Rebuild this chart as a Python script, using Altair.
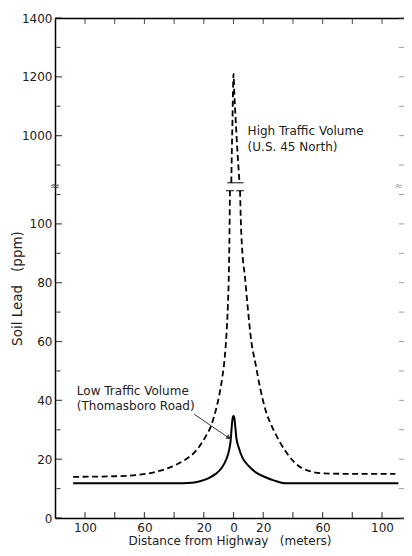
import altair as alt
import pandas as pd

# ---------------- data ----------------
# Low traffic volume (Thomasboro Road) - solid curve
low_dist = [-108, -40, -28, -22, -17, -12, -8, -5, -3, -2, -1.2, -0.5, 0, 0.5, 1.2, 2, 3.5, 6, 10, 15, 20, 27, 35, 111]
low_ppm = [11.8, 11.8, 12.0, 12.6, 13.5, 15.0, 17.0, 19.8, 23.0, 26.0, 31.0, 34.2, 34.7, 34.2, 31.0, 27.0, 24.0, 20.5, 17.8, 15.5, 14.2, 12.8, 11.8, 11.8]

# High traffic volume (U.S. 45 North) - dashed curve, split at the axis break
high_left_dist = [-108, -80, -62, -50, -40, -32, -25, -19, -15, -12, -9.5, -7.5, -6, -4.8, -3.8, -3.1, -2.7, -2.4]
high_left_ppm = [14, 14.2, 14.8, 16, 17.8, 20, 23, 27.5, 31.5, 36.5, 42, 48, 54, 62, 72, 84, 97, 111.3]
high_right_dist = [4.4, 5, 6, 7.7, 9.5, 12, 15, 18, 22, 26, 31, 36, 46, 60, 80, 109]
high_right_ppm = [111.3, 100, 90, 82, 72, 60, 52, 44, 36, 31, 26, 22, 17, 15.2, 15, 15]
high_top_dist = [-1.5, -1.1, -0.7, -0.35, 0, 0.5, 1.5, 2.6, 3.5, 4.0]
high_top_ppm = [840, 950, 1050, 1150, 1210, 1150, 1050, 950, 880, 840]

# axis ticks / labels
x_tick_values = [-100, -80, -60, -40, -20, 0, 20, 40, 60, 80, 100]
x_label_values = [-100, -60, -20, 0, 20, 60, 100]
y_tick_ppm = [0, 10, 20, 30, 40, 50, 60, 70, 80, 90, 100, 110, 900, 1000, 1100, 1200, 1300, 1400]
y_label_ppm = [0, 20, 40, 60, 80, 100, 1000, 1200, 1400]

high_label = ["High Traffic Volume", "(U.S. 45 North)"]
low_label = ["Low Traffic Volume", "(Thomasboro Road)"]
NB = "\u00a0"
x_title = f"Distance from Highway{NB}{NB}{NB}(meters)"
y_title = f"Soil Lead{NB}{NB}{NB}(ppm)"

# ---------------- broken y axis mapping ----------------
BREAK_EXPR = "datum.ppm > 200 ? 30 + datum.ppm / 10 : datum.ppm"


def to_plot(v):
    return 30 + v / 10 if v > 200 else v


X_MIN, X_MAX = -120.2, 114.8
Y_MIN, Y_MAX = 0, 170
W, H = 349, 500

y_tick_vals = [to_plot(v) for v in y_tick_ppm]
y_label_vals = [to_plot(v) for v in y_label_ppm]
y_label_expr = (f"indexof({y_label_vals}, datum.value) >= 0 ? "
                f"(datum.value > 115 ? round((datum.value - 30) * 10) : datum.value) : ''")
x_label_expr = f"indexof({x_label_values}, datum.value) >= 0 ? abs(datum.value) : ''"

FONT = "DejaVu Sans"
INK = "#222"
xscale = alt.Scale(domain=[X_MIN, X_MAX], nice=False, zero=False)
yscale = alt.Scale(domain=[Y_MIN, Y_MAX], nice=False, zero=False)

bottom_axis = alt.Axis(values=x_tick_values, labelExpr=x_label_expr, ticks=False,
                       labelPadding=4, domainColor="black", domainWidth=1.5,
                       labelFont=FONT, labelFontSize=12, labelColor=INK,
                       grid=False, titleFont=FONT, titleFontSize=12, titleFontWeight="normal",
                       titleColor=INK, titleY=22, titleBaseline="middle")
left_axis = alt.Axis(values=y_tick_vals, labelExpr=y_label_expr, ticks=False,
                     labelPadding=3, domainColor="black", domainWidth=1.5,
                     labelFont=FONT, labelFontSize=12, labelColor=INK,
                     grid=False, titleFont=FONT, titleFontSize=13.5, titleFontWeight="normal",
                     titleColor=INK, titleX=-38, titleY=270, titleAngle=270,
                     titleAlign="center", titleBaseline="middle")
top_axis = alt.Axis(orient="top", labels=False, ticks=False, domainColor="black",
                    domainWidth=1.5, grid=False, title=None)
right_axis = alt.Axis(orient="right", labels=False, ticks=False, domainColor="#d0d0d0",
                      domainWidth=1, grid=False, title=None)

# ---------------- tables ----------------
low_df = pd.DataFrame({"dist": low_dist, "ppm": low_ppm})
high_df = pd.concat([
    pd.DataFrame({"dist": high_left_dist, "ppm": high_left_ppm, "seg": "left"}),
    pd.DataFrame({"dist": high_right_dist, "ppm": high_right_ppm, "seg": "right"}),
    pd.DataFrame({"dist": high_top_dist, "ppm": high_top_ppm, "seg": "top"}),
])
caps_df = pd.DataFrame({
    "dist": [high_left_dist[-1], high_right_dist[0], high_top_dist[0], high_top_dist[-1]],
    "ppm": [high_left_ppm[-1], high_right_ppm[0], high_top_ppm[0], high_top_ppm[-1]],
})
text_df = pd.DataFrame({
    "dist": [9.5, 9.5, -105.5, -105.5],
    "ppm": [1015, 962, 43.2, 38.1],
    "label": high_label + low_label,
})
arrow_df = pd.DataFrame({"dist": [-26.5, -3.6], "ppm": [35.3, 27.4]})
break_df = pd.DataFrame({"dist": [X_MIN, X_MAX], "ppm": [113, 113]})

# inward tick marks (left/right on y, bottom/top on x)
y_major = [v in y_label_ppm for v in y_tick_ppm]
ytick_df = pd.DataFrame({"py": y_tick_vals, "major": y_major})
xtick_df = pd.DataFrame({"dist": x_tick_values})

noX = alt.X("dist:Q", scale=xscale, axis=None)
noY = alt.Y("py:Q", scale=yscale, axis=None)

solid = alt.Chart(low_df).transform_calculate(py=BREAK_EXPR).mark_line(
    color="black", strokeWidth=2, interpolate="monotone"
).encode(
    x=alt.X("dist:Q", scale=xscale, axis=bottom_axis, title=x_title),
    y=alt.Y("py:Q", scale=yscale, axis=left_axis, title=y_title),
)

dashed = alt.Chart(high_df).transform_calculate(py=BREAK_EXPR).mark_line(
    color="black", strokeWidth=1.8, strokeDash=[6, 3.5], interpolate="monotone"
).encode(x=noX, y=noY, detail="seg:N")

caps = alt.Chart(caps_df).transform_calculate(py=BREAK_EXPR).mark_tick(
    orient="horizontal", size=8, thickness=1.4, color="black"
).encode(
    x=alt.X("dist:Q", scale=xscale, axis=top_axis),
    y=alt.Y("py:Q", scale=yscale, axis=right_axis),
)

texts = alt.Chart(text_df).transform_calculate(py=BREAK_EXPR).mark_text(
    align="left", baseline="middle", font=FONT, fontSize=12, color=INK
).encode(x=noX, y=noY, text="label:N")

arrow_line = alt.Chart(arrow_df).transform_calculate(py=BREAK_EXPR).mark_line(
    color="#333", strokeWidth=1
).encode(x=noX, y=noY)
arrow_head = alt.Chart(arrow_df.iloc[[1]]).transform_calculate(py=BREAK_EXPR).mark_point(
    shape="triangle", angle=124, filled=True, size=28, color="#333", opacity=1
).encode(x=noX, y=noY)

breaks_l = alt.Chart(break_df.iloc[[0]]).transform_calculate(py="datum.ppm").mark_text(
    text="≈", fontSize=12, color="#444", font=FONT
).encode(x=noX, y=noY)
breaks_r = alt.Chart(break_df.iloc[[1]]).transform_calculate(py="datum.ppm").mark_text(
    text="≈", fontSize=10, color="#999", font=FONT, align="right", dx=-1
).encode(x=noX, y=noY)

tick_size = alt.condition("datum.major", alt.value(7), alt.value(4))
left_ticks = alt.Chart(ytick_df).transform_calculate(dist=str(X_MIN)).mark_tick(
    orient="horizontal", thickness=1.2, color="black", xOffset=3.5
).encode(x=noX, y=noY, size=tick_size)
right_ticks = alt.Chart(ytick_df).transform_calculate(dist=str(X_MAX)).mark_tick(
    orient="horizontal", thickness=1, color="#777", xOffset=-2.5
).encode(x=noX, y=noY, size=alt.value(5))
bottom_ticks = alt.Chart(xtick_df).transform_calculate(py=str(Y_MIN)).mark_tick(
    orient="vertical", thickness=1.2, color="black", size=6, yOffset=-3
).encode(x=noX, y=noY)
top_ticks = alt.Chart(xtick_df).transform_calculate(py=str(Y_MAX)).mark_tick(
    orient="vertical", thickness=1, color="black", size=6, yOffset=3
).encode(x=noX, y=noY)

chart = alt.layer(
    solid, dashed, caps, texts, arrow_line, arrow_head, breaks_l, breaks_r,
    left_ticks, right_ticks, bottom_ticks, top_ticks,
).resolve_axis(
    x="independent", y="independent"
).properties(
    width=W, height=H,
    autosize=alt.AutoSizeParams(type="none"),
    padding={"left": 47, "top": 10, "right": 0, "bottom": 30},
).configure_view(stroke=None)

chart.save("out.html", embed_options={"renderer": "svg", "actions": False})
